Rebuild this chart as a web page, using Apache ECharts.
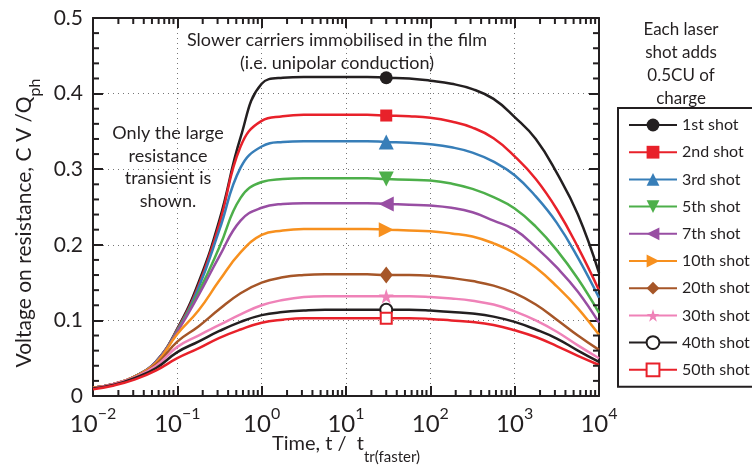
<!DOCTYPE html>
<html><head><meta charset="utf-8">
<script src="https://cdn.jsdelivr.net/npm/echarts@6/dist/echarts.min.js"></script>
<style>html,body{margin:0;padding:0;background:#fff}#c{width:752px;height:468px}</style>
</head><body><div id="c"></div>
<script>
// ---- data ----
const times = [0.01, 0.0178, 0.0316, 0.0562, 0.1, 0.178, 0.316, 0.562, 1, 1.78, 3.16, 5.62, 10, 17.8, 30, 56.2, 100, 178, 316, 562, 1000, 1780, 3160, 5620, 10000];
const markerTime = 30;
const seriesNames = ['1st shot','2nd shot','3rd shot','5th shot','7th shot','10th shot','20th shot','30th shot','40th shot','50th shot'];
const shot1  = [0.011,0.016,0.026,0.046,0.089,0.150,0.233,0.342,0.413,0.421,0.422,0.422,0.422,0.422,0.421,0.420,0.417,0.413,0.406,0.393,0.369,0.340,0.295,0.240,0.163];
const shot2  = [0.011,0.016,0.026,0.046,0.088,0.146,0.228,0.330,0.364,0.370,0.372,0.372,0.372,0.372,0.371,0.370,0.368,0.363,0.355,0.341,0.317,0.287,0.247,0.197,0.140];
const shot3  = [0.011,0.016,0.026,0.046,0.087,0.143,0.220,0.302,0.330,0.336,0.337,0.337,0.337,0.337,0.336,0.335,0.333,0.329,0.322,0.310,0.292,0.264,0.229,0.183,0.130];
const shot5  = [0.011,0.016,0.026,0.045,0.086,0.137,0.197,0.262,0.283,0.287,0.288,0.288,0.288,0.288,0.287,0.286,0.285,0.281,0.274,0.263,0.248,0.224,0.193,0.155,0.110];
const shot7  = [0.011,0.016,0.026,0.045,0.085,0.133,0.185,0.232,0.249,0.254,0.255,0.255,0.255,0.255,0.254,0.253,0.252,0.249,0.243,0.232,0.220,0.197,0.170,0.138,0.097];
const shot10 = [0.011,0.016,0.026,0.044,0.082,0.113,0.153,0.190,0.213,0.219,0.221,0.221,0.221,0.221,0.220,0.219,0.218,0.215,0.211,0.202,0.189,0.170,0.145,0.116,0.081];
const shot20 = [0.010,0.016,0.025,0.042,0.072,0.092,0.115,0.136,0.150,0.157,0.160,0.161,0.161,0.161,0.160,0.160,0.159,0.156,0.152,0.146,0.136,0.121,0.101,0.080,0.061];
const shot30 = [0.010,0.016,0.025,0.040,0.065,0.080,0.094,0.108,0.120,0.127,0.131,0.132,0.132,0.132,0.132,0.132,0.131,0.129,0.126,0.121,0.112,0.100,0.085,0.067,0.050];
const shot40 = [0.010,0.015,0.024,0.037,0.058,0.072,0.086,0.098,0.107,0.111,0.113,0.114,0.114,0.114,0.114,0.114,0.113,0.111,0.109,0.105,0.098,0.088,0.076,0.060,0.045];
const shot50 = [0.009,0.014,0.022,0.034,0.050,0.063,0.077,0.088,0.097,0.101,0.103,0.103,0.103,0.103,0.103,0.103,0.102,0.100,0.098,0.094,0.087,0.078,0.066,0.053,0.041];
const allShots = [shot1, shot2, shot3, shot5, shot7, shot10, shot20, shot30, shot40, shot50];
const xTickExponents = [-2,-1,0,1,2,3,4];
const yTicks = [0, 0.1, 0.2, 0.3, 0.4, 0.5];

// ---- styles ----
const INK = '#231f20';
const FONT = 'Lato';
const colors = [INK,'#e8212a','#377eb8','#4daf4a','#984ea3','#f7901e','#a65628','#ef82b8',INK,'#e8212a'];
const starPath = 'path://M50,0 L61,35 L98,35 L68,57 L79,91 L50,70 L21,91 L32,57 L2,35 L39,35 Z';
const symbols = [
  {symbol:'circle', size:13, rotate:0},
  {symbol:'rect', size:12, rotate:0},
  {symbol:'triangle', size:15, rotate:0},
  {symbol:'triangle', size:15, rotate:180},
  {symbol:'triangle', size:15, rotate:90},
  {symbol:'triangle', size:15, rotate:-90},
  {symbol:'diamond', size:[13,17], rotate:0},
  {symbol:starPath, size:15, rotate:0},
  {symbol:'emptyCircle', size:12, rotate:0},
  {symbol:'emptyRect', size:11, rotate:0}
];
const markerIdx = times.indexOf(markerTime);
const xMin = Math.pow(10, xTickExponents[0]), xMax = Math.pow(10, xTickExponents[xTickExponents.length - 1]);
const yMin = yTicks[0], yMax = yTicks[yTicks.length - 1];

const series = seriesNames.map((name, i) => ({
  name, type:'line', xAxisIndex:0, yAxisIndex:0,
  smooth: 0.45,
  showAllSymbol: true,
  symbol: symbols[i].symbol,
  symbolSize: symbols[i].size,
  symbolRotate: symbols[i].rotate,
  color: colors[i],
  lineStyle: {width: 2.5, color: colors[i]},
  itemStyle: {color: colors[i], borderWidth: symbols[i].symbol.indexOf('empty') === 0 ? 2 : 0, borderColor: colors[i]},
  data: times.map((t, k) => k === markerIdx ? {value:[t, allShots[i][k]]} : {value:[t, allShots[i][k]], symbol:'none'})
}));

// axis decoration: minor ticks (log 2..9 per decade on x; 0.02 steps on y)
const minorX = [];
for (let e = xTickExponents[0]; e < xTickExponents[xTickExponents.length - 1]; e++) {
  for (let m = 2; m <= 9; m++) minorX.push(+(m * Math.pow(10, e)).toPrecision(3));
}
const minorY = [];
for (let k = 1; k < 25; k++) if (k % 5 !== 0) minorY.push(+(k * 0.02).toFixed(2));
series.push({
  type:'custom', name:'minorTicksX', xAxisIndex:0, yAxisIndex:0, z:30, clip:false,
  data: minorX.map(v => [v, yMin]),
  renderItem: (params, api) => {
    const b = api.coord([api.value(0), yMin]);
    const t = api.coord([api.value(0), yMax]);
    return {type:'group', children:[
      {type:'line', shape:{x1:b[0], y1:b[1], x2:b[0], y2:b[1] - 6}, style:{stroke:INK, lineWidth:2}},
      {type:'line', shape:{x1:t[0], y1:t[1], x2:t[0], y2:t[1] + 6}, style:{stroke:INK, lineWidth:2}}
    ]};
  }
});
series.push({
  type:'custom', name:'minorTicksY', xAxisIndex:0, yAxisIndex:0, z:30, clip:false,
  data: minorY.map(v => [xMin, v]),
  renderItem: (params, api) => {
    const l = api.coord([xMin, api.value(1)]);
    const r = api.coord([xMax, api.value(1)]);
    return {type:'group', children:[
      {type:'line', shape:{x1:l[0], y1:l[1], x2:l[0] + 6, y2:l[1]}, style:{stroke:INK, lineWidth:2}},
      {type:'line', shape:{x1:r[0], y1:r[1], x2:r[0] - 6, y2:r[1]}, style:{stroke:INK, lineWidth:2}}
    ]};
  }
});

const supLabel = (v) => {
  const e = Math.round(Math.log10(v));
  if (xTickExponents.indexOf(e) < 0) return '';
  return '{b|10}{s|' + (e < 0 ? '\u2212' + (-e) : e) + '}';
};

const logAxisBase = {
  type:'log', logBase:10, min:xMin, max:xMax, splitNumber:6,
  axisLine:{show:true, onZero:false, lineStyle:{color:INK, width:2}},
  axisTick:{show:true, inside:true, length:10, lineStyle:{color:INK, width:2}},
  minorTick:{show:false}
};
const valAxisBase = {
  type:'value', min:yMin, max:yMax, interval:0.1,
  axisLine:{show:true, onZero:false, lineStyle:{color:INK, width:2}},
  axisTick:{show:true, inside:true, length:10, lineStyle:{color:INK, width:2}},
  minorTick:{show:false}
};

const option = {
  animation:false,
  backgroundColor:'#fff',
  grid:{left:93, right:153, top:18, bottom:72, containLabel:false},
  xAxis:[
    Object.assign({}, logAxisBase, {
      position:'bottom',
      axisLabel:{formatter:supLabel, margin:10, color:INK,
        rich:{b:{fontFamily:FONT, fontSize:24, lineHeight:36, color:INK},
              s:{fontFamily:FONT, fontSize:16, lineHeight:16, verticalAlign:'top', color:INK}}},
      splitLine:{show:true, lineStyle:{color:'#777', width:1, type:[1,4]}}
    }),
    Object.assign({}, logAxisBase, {position:'top', axisLabel:{show:false}, splitLine:{show:false}})
  ],
  yAxis:[
    Object.assign({}, valAxisBase, {
      position:'left',
      axisLabel:{fontFamily:FONT, fontSize:21, color:INK, margin:10,
        formatter:(v) => yTicks.indexOf(+v.toFixed(2)) >= 0 ? String(+v.toFixed(2)) : ''},
      splitLine:{show:true, lineStyle:{color:'#777', width:1, type:[1,4]}}
    }),
    Object.assign({}, valAxisBase, {position:'right', axisLabel:{show:false}, splitLine:{show:false}})
  ],
  legend:{
    orient:'vertical', left:618, top:108,
    itemWidth:48, itemHeight:16, itemGap:11.2,
    padding:[9,8,9,10],
    borderColor:INK, borderWidth:2, backgroundColor:'#fff',
    textStyle:{fontFamily:FONT, fontSize:16, color:INK},
    data: seriesNames
  },
  graphic:[
    {type:'text', x:24, y:223, rotation:Math.PI/2,
     style:{text:'{a|Voltage on resistance, C V /Q}{s|ph}', align:'center', verticalAlign:'middle',
       rich:{a:{fontFamily:FONT, fontSize:21, lineHeight:38, fill:INK},
             s:{fontFamily:FONT, fontSize:16, lineHeight:16, verticalAlign:'bottom', fill:INK}}}},
    {type:'text', x:346, y:444,
     style:{text:'{a|Time, t /  t}{s|tr(faster)}', align:'center', verticalAlign:'middle',
       rich:{a:{fontFamily:FONT, fontSize:20, lineHeight:42, fill:INK},
             s:{fontFamily:FONT, fontSize:15, lineHeight:15, verticalAlign:'bottom', fill:INK}}}},
    {type:'text', x:337, y:51.5,
     style:{text:'Slower carriers immobilised in the film\n(i.e. unipolar conduction)', align:'center', verticalAlign:'middle',
       fontFamily:FONT, fontSize:18, lineHeight:23, fill:INK}},
    {type:'text', x:168, y:167,
     style:{text:'Only the large\nresistance\ntransient is\nshown.', align:'center', verticalAlign:'middle',
       fontFamily:FONT, fontSize:18, lineHeight:22.5, fill:INK}},
    {type:'text', x:681, y:64,
     style:{text:'Each laser\nshot adds\n0.5CU of\ncharge', align:'center', verticalAlign:'middle',
       fontFamily:FONT, fontSize:17, lineHeight:22.7, fill:INK}}
  ],
  series
};
const chart = echarts.init(document.getElementById('c'), null, {renderer:'canvas'});
chart.setOption(option);
</script></body></html>
